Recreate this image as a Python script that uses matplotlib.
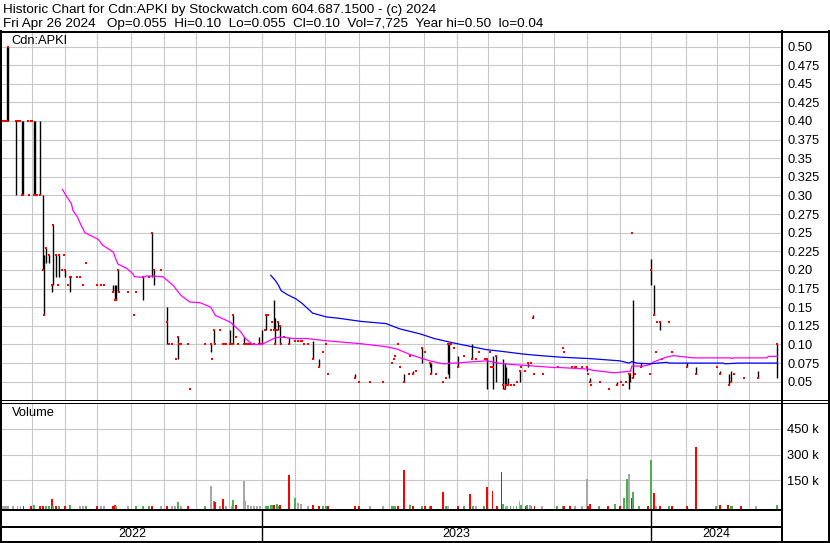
import numpy as np
import pandas as pd
import matplotlib
matplotlib.use("Agg")
import matplotlib.pyplot as plt

plt.rcParams['font.family'] = ['Liberation Sans', 'DejaVu Sans']

# ---------------- data ----------------
start_date = '2022-05-02'
end_date = '2024-04-26'

# days with a high-low range (index = trading day from start_date)
range_day = [5, 6, 11, 15, 16, 23, 24, 27, 29, 30, 31, 33, 35, 36, 38, 40, 44, 47, 76, 77,
             78, 79, 96, 102, 103, 112, 119, 141, 143, 154, 156, 163, 173, 175, 178, 183, 184, 186, 187, 193,
             209, 213, 237, 270, 276, 282, 287, 288, 299, 300, 306, 315, 325, 329, 331, 336, 337, 338, 339, 347,
             353, 356, 392, 394, 412, 420, 421, 423, 428, 435, 437, 441, 459, 465, 481, 487, 488, 506, 519]
range_high = [.50, .50, .40, .40, .40, .40, .40, .40, .30, .22, .23, .22, .18, .26, .22, .22, .20, .19, .18, .18,
              .18, .20, .19, .25, .20, .15, .11, .10, .12, .12, .14, .11, .11, .12, .14, .16, .135, .13, .125, .11,
              .105, .08, .06, .06, .065, .095, .075, .075, .10, .10, .085, .10, .08, .085, .085, .08, .075, .07, .055, .065,
              .075, .14, .07, .055, .05, .06, .06, .16, .075, .215, .18, .13, .075, .07, .065, .06, .065, .065, .10]
range_low = [.40, .40, .30, .30, .30, .30, .30, .30, .20, .14, .21, .21, .17, .18, .19, .19, .19, .17, .17, .16,
             .16, .17, .16, .19, .18, .10, .08, .09, .10, .10, .10, .10, .10, .10, .12, .12, .10, .12, .10, .10,
             .08, .07, .055, .05, .06, .075, .07, .06, .06, .055, .07, .08, .04, .04, .05, .04, .04, .045, .045, .05,
             .07, .135, .065, .05, .045, .04, .05, .055, .07, .18, .14, .12, .07, .06, .06, .045, .05, .055, .055]
range_close = [.40, .50, .40, .30, .30, .30, .30, .30, .20, .14, .23, .22, .18, .26, .22, .22, .20, .19, .17, .16,
               .16, .20, .19, .25, .20, .13, .11, .10, .12, .10, .14, .10, .10, .10, .14, .12, .10, .13, .125, .10,
               .08, .07, .055, .05, .06, .095, .075, .06, .10, .10, .07, .08, .08, .07, .085, .045, .04, .045, .045, .065,
               .075, .135, .07, .05, .045, .06, .06, .055, .07, .20, .14, .13, .07, .06, .06, .045, .05, .055, .10]

# days that traded at a single price
dot_day = [2, 3, 4, 12, 13, 14, 19, 20, 21, 22, 25, 39, 42, 43, 46, 48, 52, 54, 56, 58,
           65, 68, 70, 80, 86, 90, 91, 100, 108, 113, 115, 118, 120, 121, 126, 127, 137, 142, 144, 147,
           149, 150, 151, 155, 158, 159, 164, 165, 166, 167, 168, 170, 174, 177, 179, 181, 182, 185, 188, 190,
           197, 199, 201, 202, 203, 206, 216, 218, 219, 240, 247, 256, 262, 263, 264, 266, 267, 273, 274, 278,
           284, 291, 296, 298, 301, 303, 310, 318, 320, 324, 327, 328, 341, 343, 345, 348, 351, 355, 357, 363,
           373, 376, 377, 382, 384, 385, 389, 393, 395, 401, 407, 415, 416, 418, 422, 424, 434, 438, 439, 442,
           447, 449, 479, 490, 497]
dot_close = [.40, .40, .40, .40, .40, .40, .40, .30, .40, .40, .30, .18, .20, .22, .18, .19, .19, .19, .18, .21,
             .18, .18, .18, .17, .17, .14, .17, .19, .20, .10, .10, .08, .10, .10, .10, .04, .10, .08, .10, .12,
             .10, .10, .10, .10, .11, .10, .10, .10, .10, .10, .10, .10, .10, .12, .14, .12, .13, .12, .10, .11,
             .105, .105, .105, .105, .10, .10, .09, .10, .06, .05, .05, .05, .075, .08, .085, .10, .07, .06, .085, .065,
             .09, .06, .05, .055, .10, .095, .085, .08, .09, .08, .09, .07, .045, .045, .05, .07, .065, .075, .06, .06,
             .07, .095, .09, .07, .07, .07, .07, .06, .045, .05, .04, .05, .045, .05, .25, .06, .06, .09, .13, .08,
             .13, .09, .07, .06, .055]

# moving averages (magenta = short, blue = long)
ma_short_day = [42, 45, 48, 49, 52, 54, 57, 60, 66, 69, 76, 77, 79, 85, 89, 90, 96, 98, 109, 112,
                116, 121, 127, 134, 141, 144, 154, 161, 164, 169, 175, 178, 183, 187, 196, 205, 218, 241, 258, 265,
                274, 287, 296, 325, 336, 350, 370, 374, 392, 397, 410, 421, 422, 430, 434, 436, 441, 445, 450, 454,
                463, 488, 489, 490, 512, 513, 519]
ma_short_val = [0.308, 0.298, 0.289, 0.280, 0.271, 0.262, 0.250, 0.247, 0.241, 0.233, 0.224, 0.218, 0.208, 0.202, 0.195, 0.191, 0.190, 0.192, 0.191, 0.186,
                0.179, 0.166, 0.157, 0.156, 0.150, 0.139, 0.130, 0.117, 0.108, 0.100, 0.100, 0.103, 0.108, 0.110, 0.108, 0.108, 0.105, 0.101, 0.097, 0.094,
                0.0865, 0.078, 0.074, 0.078, 0.074, 0.072, 0.069, 0.069, 0.067, 0.065, 0.062, 0.064, 0.071, 0.071, 0.073, 0.076, 0.080, 0.083, 0.085, 0.084,
                0.082, 0.082, 0.081, 0.082, 0.082, 0.084, 0.084]
ma_long_day = [181, 184, 186, 188, 192, 198, 202, 209, 218, 227, 241, 258, 267, 281, 290, 303, 325, 334, 350, 361,
               374, 394, 414, 420, 422, 425, 434, 445, 447, 483, 484, 493, 519]
ma_long_val = [0.193, 0.186, 0.180, 0.172, 0.167, 0.161, 0.155, 0.142, 0.137, 0.135, 0.131, 0.128, 0.121, 0.114, 0.108, 0.102, 0.093, 0.091, 0.087, 0.085,
               0.083, 0.081, 0.078, 0.075, 0.077, 0.075, 0.074, 0.076, 0.075, 0.075, 0.074, 0.075, 0.075]

# volume (thousands of shares), direction u=up d=down n=unchanged
vol_day = [2, 3, 4, 5, 6, 9, 12, 14, 16, 21, 23, 27, 29, 31, 33, 35, 36, 38, 40, 44,
           47, 54, 56, 58, 65, 68, 70, 76, 77, 78, 86, 91, 96, 100, 102, 108, 112, 115, 117, 119,
           121, 126, 137, 141, 143, 144, 147, 149, 151, 155, 156, 158, 163, 164, 166, 168, 170, 172, 174, 178,
           179, 181, 182, 183, 185, 186, 187, 193, 197, 199, 201, 206, 209, 213, 216, 218, 219, 237, 240, 247,
           256, 262, 263, 264, 266, 270, 274, 276, 282, 284, 287, 288, 296, 298, 299, 306, 310, 314, 316, 318,
           323, 325, 329, 332, 335, 336, 338, 339, 341, 343, 345, 347, 348, 351, 352, 354, 355, 357, 362, 372,
           376, 377, 381, 384, 389, 392, 393, 394, 400, 406, 411, 414, 417, 419, 420, 422, 423, 427, 433, 435,
           437, 438, 441, 447, 449, 459, 465, 478, 481, 486, 488, 489, 495, 505, 519]
vol_k = [3, 2, 3, 2, 3, 2, 2, 2, 3, 2, 6, 2, 3, 2, 2, 40, 3, 2, 2, 3,
         6, 2, 2, 2, 4, 2, 2, 3, 5, 2, 2, 2, 3, 4, 4, 2, 4, 2, 2, 23,
         2, 3, 2, 115, 29, 23, 2, 40, 3, 2, 35, 6, 144, 29, 6, 2, 2, 3, 2, 2,
         2, 5, 8, 6, 12, 4, 8, 179, 46, 17, 12, 2, 6, 3, 3, 4, 2, 3, 2, 2,
         2, 3, 3, 3, 3, 208, 6, 2, 3, 2, 3, 4, 81, 3, 3, 2, 2, 69, 3, 3,
         3, 110, 87, 2, 196, 12, 4, 3, 4, 3, 3, 29, 6, 3, 6, 6, 3, 2, 2, 4,
         2, 2, 2, 4, 2, 156, 4, 12, 2, 2, 12, 2, 46, 156, 185, 46, 81, 3, 2, 271,
         75, 3, 3, 4, 2, 3, 346, 3, 6, 5, 3, 3, 3, 2, 8]
vol_dir = ['n', 'n', 'n', 'n', 'n', 'n', 'n', 'n', 'd', 'd', 'u', 'd', 'd', 'u', 'u', 'd', 'u', 'd', 'u', 'd',
           'u', 'n', 'n', 'u', 'd', 'n', 'n', 'd', 'd', 'u', 'n', 'u', 'u', 'u', 'd', 'n', 'd', 'n', 'n', 'u',
           'n', 'd', 'u', 'n', 'u', 'd', 'n', 'd', 'n', 'n', 'u', 'd', 'n', 'n', 'n', 'n', 'n', 'n', 'n', 'u',
           'u', 'u', 'u', 'd', 'u', 'u', 'd', 'd', 'u', 'n', 'n', 'n', 'd', 'd', 'u', 'u', 'd', 'd', 'd', 'n',
           'n', 'u', 'u', 'u', 'd', 'd', 'u', 'd', 'u', 'd', 'u', 'd', 'd', 'u', 'n', 'd', 'u', 'd', 'u', 'n',
           'u', 'd', 'd', 'd', 'd', 'u', 'n', 'n', 'u', 'n', 'u', 'n', 'u', 'd', 'u', 'n', 'u', 'd', 'n', 'u',
           'u', 'd', 'd', 'n', 'n', 'n', 'd', 'd', 'u', 'd', 'u', 'd', 'u', 'u', 'n', 'd', 'u', 'u', 'd', 'u',
           'd', 'n', 'd', 'u', 'd', 'd', 'd', 'u', 'd', 'd', 'u', 'u', 'd', 'n', 'u']

price_ticks = [0.50, 0.475, 0.45, 0.425, 0.40, 0.375, 0.35, 0.325, 0.30, 0.275, 0.25, 0.225,
               0.20, 0.175, 0.15, 0.125, 0.10, 0.075, 0.05]
price_tick_labels = ["0.50", "0.475", "0.45", "0.425", "0.40", "0.375", "0.35", "0.325", "0.30", "0.275",
                     "0.25", "0.225", "0.20", "0.175", "0.15", "0.125", "0.10", "0.075", "0.05"]
vol_ticks = [150, 300, 450]
vol_tick_labels = ["150 k", "300 k", "450 k"]

title_line = "Historic Chart for Cdn:APKI by Stockwatch.com 604.687.1500 - (c) 2024"
info_line = "Fri Apr 26 2024   Op=0.055  Hi=0.10  Lo=0.055  Cl=0.10  Vol=7,725  Year hi=0.50  lo=0.04"
symbol = "Cdn:APKI"

# ---------------- layout ----------------
W, H = 830, 543
fig = plt.figure(figsize=(W / 100, H / 100), dpi=100)
fig.patch.set_facecolor('white')

def rect(x0, y0, x1, y1):
    return [x0 / W, 1 - y1 / H, (x1 - x0) / W, (y1 - y0) / H]

days = pd.bdate_range(start_date, end_date)
n_days = len(days)
month_starts = [i for i in range(1, n_days) if days[i].month != days[i - 1].month]
year_starts = [i for i in range(1, n_days) if days[i].year != days[i - 1].year]
XL = (1.67, 521.5)

GRID = '#c8c8c8'
RED = '#ff0000'
GREEN = '#4caf50'
GRAY = '#a8a8a8'
FS = 9.3

# price panel
ax = fig.add_axes(rect(2, 32.5, 781, 399.5))
ax.set_xlim(*XL)
ax.set_ylim(0.0261, 0.5188)
ax.set_xticks(month_starts)
ax.set_yticks(price_ticks)
ax.set_yticklabels(price_tick_labels)
ax.yaxis.tick_right()
ax.tick_params(axis='x', length=0, labelbottom=False)
ax.tick_params(axis='y', length=0, pad=4.5, labelsize=FS)
ax.grid(True, color=GRID, lw=0.8)
ax.set_axisbelow(True)
for s in ax.spines.values():
    s.set_visible(False)

ax.vlines(range_day, range_low, range_high, color='black', lw=1.0, zorder=3)
ax.plot(range_day, range_close, 's', color=RED, ms=1.8, mew=0, zorder=4)
ax.plot(dot_day, dot_close, 's', color=RED, ms=1.8, mew=0, zorder=4)
ax.plot(ma_short_day, ma_short_val, color='#ff00ff', lw=0.9, zorder=5)
ax.plot(ma_long_day, ma_long_val, color='#0000ff', lw=0.9, zorder=5)
ax.text(9.5 / 779, 1 - (41.5 - 32.5) / 367, symbol, transform=ax.transAxes,
        fontsize=FS, va='center', ha='left')

# volume panel
axv = fig.add_axes(rect(2, 402.5, 781, 509.5))
vbot = -19
axv.set_xlim(*XL)
axv.set_ylim(vbot, 602)
axv.set_xticks(month_starts)
axv.set_yticks(vol_ticks)
axv.set_yticklabels(vol_tick_labels)
axv.yaxis.tick_right()
axv.tick_params(axis='x', length=0, labelbottom=False)
axv.tick_params(axis='y', length=0, pad=4.5, labelsize=FS)
axv.grid(True, color=GRID, lw=0.8)
axv.set_axisbelow(True)
for s in axv.spines.values():
    s.set_visible(False)
cmap = {'u': GREEN, 'd': RED, 'n': GRAY}
axv.bar(vol_day, np.array(vol_k) - vbot, bottom=vbot, width=1.3,
        color=[cmap[d] for d in vol_dir], zorder=3, linewidth=0)
axv.text(9.5 / 779, 1 - (413.5 - 402.5) / 107, "Volume", transform=axv.transAxes,
         fontsize=FS, va='center', ha='left')

# year band
axy = fig.add_axes(rect(2, 509.5, 781, 541.5))
axy.set_xlim(*XL)
axy.set_ylim(0, 1)
axy.axis('off')
for ys in year_starts:
    axy.axvline(ys, color='black', lw=1.0)
bounds = [XL[0]] + year_starts + [XL[1]]
for a, b in zip(bounds[:-1], bounds[1:]):
    yr = days[int(min(max(np.ceil(a), 0), n_days - 1))].year
    axy.text((a + b) / 2, (541.5 - 534) / 32, str(yr), ha='center', va='center', fontsize=FS - 0.3)

# frame and header
bg = fig.add_axes([0, 0, 1, 1], zorder=20)
bg.set_xlim(0, W)
bg.set_ylim(H, 0)
bg.axis('off')
bg.patch.set_alpha(0)
px = 0.72
bg.plot([0, W], [31.5, 31.5], color='black', lw=2 * px)
bg.plot([1, 1], [31, 542], color='black', lw=2 * px)
bg.plot([829, 829], [31, 542], color='black', lw=2 * px)
bg.plot([781.5, 781.5], [31, 542], color='black', lw=2 * px)
bg.plot([0, W], [400, 400], color='black', lw=1 * px)
bg.plot([0, W], [402.5, 402.5], color='black', lw=1 * px)
bg.plot([0, 781.5], [509.5, 509.5], color='black', lw=2 * px)
bg.plot([0, 781.5], [527, 527], color='black', lw=2 * px)
bg.plot([0, W], [541.5, 541.5], color='black', lw=2 * px)

bg.text(3, 13.3, title_line, fontsize=9.7, ha='left', va='baseline')
bg.text(3, 27.3, info_line, fontsize=9.7, ha='left', va='baseline')

fig.savefig('out.png', dpi=100)
